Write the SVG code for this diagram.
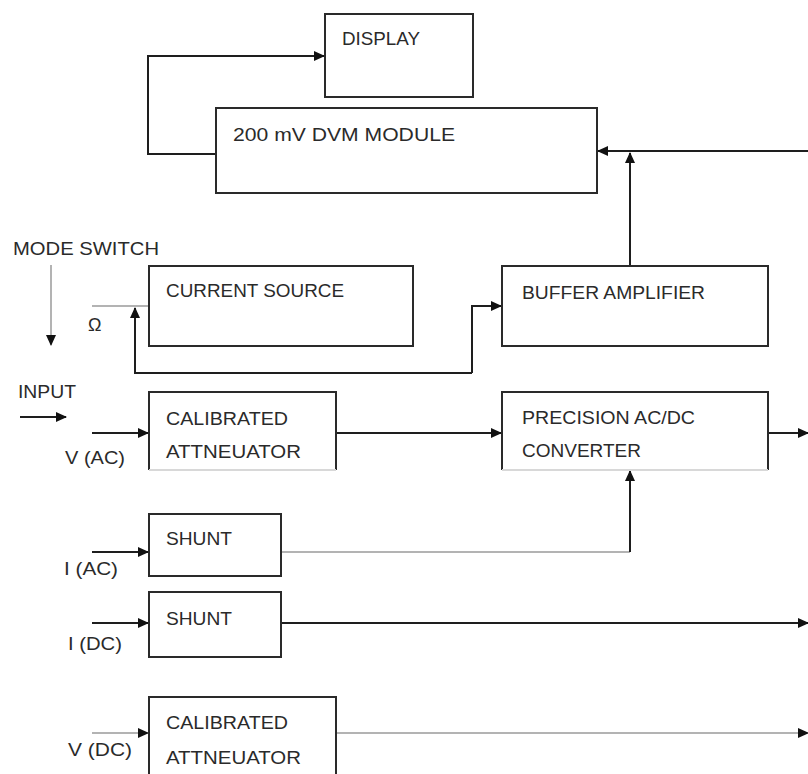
<svg xmlns="http://www.w3.org/2000/svg" width="808" height="774" viewBox="0 0 808 774">
<style>
.box{fill:#fff;stroke:#2a2a2a;stroke-width:2}
.t{font-family:"Liberation Sans",Arial,sans-serif;font-size:18px;fill:#2a2a2a}
.w{fill:none;stroke:#1e1e1e;stroke-width:2}
.g{fill:none;stroke:#9a9a9a;stroke-width:1.5}
</style>
<defs>
<marker id="ah" markerWidth="11" markerHeight="10" refX="10" refY="5" orient="auto" markerUnits="userSpaceOnUse">
<path d="M0,0 L11,5 L0,10 Z" fill="#111"/>
</marker>
</defs>
<rect width="808" height="774" fill="#fff"/>
<g id="connectors">
<path class="w" d="M216,154 H148 V56 H324" marker-end="url(#ah)"/>
<path class="w" d="M808,151 H598" marker-end="url(#ah)"/>
<path class="w" d="M630,266 V153" marker-end="url(#ah)"/>
<path class="g" d="M92,306 H149"/>
<path class="w" d="M472,373 H135 V308" marker-end="url(#ah)"/>
<path class="w" d="M472,373 V306 H501" marker-end="url(#ah)"/>
<path class="g" d="M51,265 V345" marker-end="url(#ah)"/>
<path class="w" d="M20,417 H66" marker-end="url(#ah)"/>
<path class="w" d="M92,433 H148" marker-end="url(#ah)"/>
<path class="w" d="M336,433 H501" marker-end="url(#ah)"/>
<path class="w" d="M768,433 H808" marker-end="url(#ah)"/>
<path class="w" d="M92,552 H148" marker-end="url(#ah)"/>
<path class="g" d="M282,552 H630"/>
<path class="w" d="M630,552 V471" marker-end="url(#ah)"/>
<path class="w" d="M92,623 H148" marker-end="url(#ah)"/>
<path class="w" d="M282,623 H808" marker-end="url(#ah)"/>
<path class="g" d="M92,733 H148" marker-end="url(#ah)"/>
<path class="g" d="M336,733 H808" marker-end="url(#ah)"/>
</g>
<g id="display"><rect class="box" x="325" y="14" width="148" height="83"/><text class="t" x="342" y="45" textLength="78" lengthAdjust="spacingAndGlyphs">DISPLAY</text></g>
<g id="dvm"><rect class="box" x="216" y="108" width="381" height="85"/><text class="t" x="233" y="141" textLength="222" lengthAdjust="spacingAndGlyphs">200 mV DVM MODULE</text></g>
<g id="current-source"><rect class="box" x="149" y="266" width="264" height="80"/><text class="t" x="166" y="297" textLength="178" lengthAdjust="spacingAndGlyphs">CURRENT SOURCE</text></g>
<g id="buffer"><rect class="box" x="502" y="266" width="266" height="80"/><text class="t" x="522" y="299" textLength="183" lengthAdjust="spacingAndGlyphs">BUFFER AMPLIFIER</text></g>
<g id="att-ac"><path class="box" d="M149,470 V392 H336 V470"/><path d="M149,470 H336" stroke="#d8d8d8" stroke-width="2"/><text class="t" x="166" y="425" textLength="122" lengthAdjust="spacingAndGlyphs">CALIBRATED</text><text class="t" x="166" y="458" textLength="135" lengthAdjust="spacingAndGlyphs">ATTNEUATOR</text></g>
<g id="converter"><path class="box" d="M502,470 V392 H768 V470"/><path d="M502,470 H768" stroke="#d8d8d8" stroke-width="2"/><text class="t" x="522" y="424" textLength="173" lengthAdjust="spacingAndGlyphs">PRECISION AC/DC</text><text class="t" x="522" y="457" textLength="119" lengthAdjust="spacingAndGlyphs">CONVERTER</text></g>
<g id="shunt-ac"><rect class="box" x="149" y="514" width="132" height="62"/><text class="t" x="166" y="545" textLength="66" lengthAdjust="spacingAndGlyphs">SHUNT</text></g>
<g id="shunt-dc"><rect class="box" x="149" y="592" width="132" height="65"/><text class="t" x="166" y="625" textLength="66" lengthAdjust="spacingAndGlyphs">SHUNT</text></g>
<g id="att-dc"><path class="box" d="M149,776 V697 H336 V776"/><text class="t" x="166" y="729" textLength="122" lengthAdjust="spacingAndGlyphs">CALIBRATED</text><text class="t" x="166" y="764" textLength="135" lengthAdjust="spacingAndGlyphs">ATTNEUATOR</text></g>
<g id="labels">
<text class="t" x="13" y="255" textLength="146" lengthAdjust="spacingAndGlyphs">MODE SWITCH</text>
<text class="t" x="88" y="331">Ω</text>
<text class="t" x="18" y="398" textLength="58" lengthAdjust="spacingAndGlyphs">INPUT</text>
<text class="t" x="65" y="464" textLength="60" lengthAdjust="spacingAndGlyphs">V (AC)</text>
<text class="t" x="64" y="575" textLength="54" lengthAdjust="spacingAndGlyphs">I (AC)</text>
<text class="t" x="68" y="650" textLength="54" lengthAdjust="spacingAndGlyphs">I (DC)</text>
<text class="t" x="68" y="756" textLength="64" lengthAdjust="spacingAndGlyphs">V (DC)</text>
</g>
</svg>
